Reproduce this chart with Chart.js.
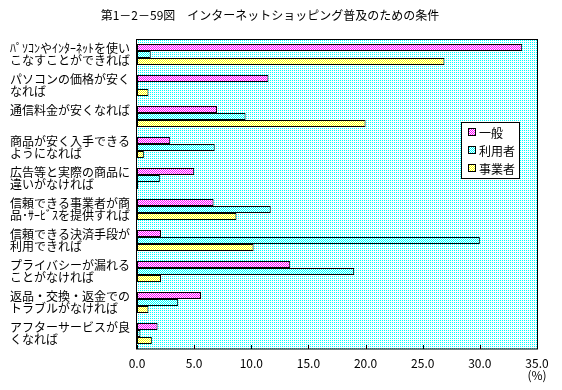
<!DOCTYPE html>
<html><head><meta charset="utf-8">
<script src="https://cdn.jsdelivr.net/npm/chart.js@4"></script>
<style>html,body{margin:0;padding:0;background:#fff}#wrap{width:562px;height:390px}</style>
</head><body><div id="wrap"><canvas id="c" width="562" height="390"></canvas></div>
<script>
const chartTitle = '第1－2－59図　インターネットショッピング普及のための条件';
const categories = [
  ['ﾊﾟｿｺﾝやｲﾝﾀｰﾈｯﾄを使い', 'こなすことができれば'],
  ['パソコンの価格が安く', 'なれば'],
  ['通信料金が安くなれば', ''],
  ['商品が安く入手できる', 'ようになれば'],
  ['広告等と実際の商品に', '違いがなければ'],
  ['信頼できる事業者が商', '品･ｻｰﾋﾞｽを提供すれば'],
  ['信頼できる決済手段が', '利用できれば'],
  ['プライバシーが漏れる', 'ことがなければ'],
  ['返品・交換・返金での', 'トラブルがなければ'],
  ['アフターサービスが良', 'くなれば']
];
const seriesNames = ['一般', '利用者', '事業者'];
const general  = [33.7, 11.5, 7.0, 2.9, 5.0, 6.7, 2.1, 13.4, 5.6, 1.8];
const users    = [1.2, 0.1, 9.5, 6.8, 2.0, 11.7, 30.0, 19.0, 3.6, 0.3];
const business = [26.9, 1.0, 20.0, 0.6, 0.1, 8.7, 10.2, 2.1, 1.0, 1.3];
const xTickLabels = ['0.0', '5.0', '10.0', '15.0', '20.0', '25.0', '30.0', '35.0'];
const unitLabel = '(%)';

const FONT = '"Noto Sans CJK JP", "Noto Sans", sans-serif';

function makePattern(color, dense) {
  const c = document.createElement('canvas');
  c.width = 2; c.height = 2;
  const g = c.getContext('2d');
  g.fillStyle = '#ffffff'; g.fillRect(0, 0, 2, 2);
  g.fillStyle = color;
  g.fillRect(0, 0, 1, 1);
  if (dense) g.fillRect(1, 1, 1, 1);
  return g.createPattern(c, 'repeat');
}
const bgPattern = makePattern('#00ffff', false);
const seriesFills = [makePattern('#ff00ff', true), makePattern('#00ffff', true), makePattern('#ffff00', true)];

const decor = {
  id: 'decor',
  beforeDraw(chart) {
    const ctx = chart.ctx, a = chart.chartArea;
    ctx.save();
    ctx.fillStyle = bgPattern;
    ctx.fillRect(a.left, a.top, a.right - a.left, a.bottom - a.top);
    ctx.restore();
  },
  afterDraw(chart) {
    const ctx = chart.ctx, a = chart.chartArea;
    ctx.save();
    // title
    ctx.fillStyle = '#000';
    ctx.font = '12px ' + FONT;
    ctx.textAlign = 'center';
    ctx.textBaseline = 'middle';
    ctx.fillText(chartTitle, 270, 15);
    // frame
    ctx.strokeStyle = '#000';
    ctx.lineWidth = 1;
    ctx.strokeRect(Math.round(a.left) - 0.5, Math.round(a.top) + 0.5,
                   Math.round(a.right - a.left) + 1, Math.round(a.bottom - a.top) - 0.5);
    // inward tick marks
    const xs = chart.scales.x;
    xs.ticks.forEach(t => {
      const x = Math.round(xs.getPixelForValue(t.value)) + 0.5;
      ctx.beginPath();
      ctx.moveTo(x, a.bottom);
      ctx.lineTo(x, a.bottom - 4);
      ctx.stroke();
    });
    // legend
    const lx = Math.round(a.right) - 76, ly = Math.round(a.top) + 83;
    const lw = 58, lh = 56;
    ctx.fillStyle = '#fff';
    ctx.fillRect(lx, ly, lw, lh);
    ctx.strokeRect(lx + 0.5, ly + 0.5, lw, lh);
    ctx.textAlign = 'left';
    ctx.font = '12px ' + FONT;
    chart.data.datasets.forEach((ds, i) => {
      const cy = ly + 10 + i * 18;
      ctx.fillStyle = ds.backgroundColor;
      ctx.fillRect(lx + 7, cy - 4, 8, 8);
      ctx.strokeStyle = '#000';
      ctx.strokeRect(lx + 7.5, cy - 3.5, 7, 7);
      ctx.fillStyle = '#000';
      ctx.fillText(ds.label, lx + 18, cy + 1);
    });
    ctx.restore();
  }
};

new Chart(document.getElementById('c'), {
  type: 'bar',
  data: {
    labels: categories,
    datasets: [
      { label: seriesNames[0], data: general,  backgroundColor: seriesFills[0] },
      { label: seriesNames[1], data: users,    backgroundColor: seriesFills[1] },
      { label: seriesNames[2], data: business, backgroundColor: seriesFills[2] }
    ].map(d => Object.assign(d, { borderColor: '#000', borderWidth: 1, borderSkipped: false,
                                  categoryPercentage: 0.68, barPercentage: 1.0 }))
  },
  options: {
    indexAxis: 'y',
    responsive: false,
    animation: false,
    layout: { padding: { left: 10, top: 39, right: 25, bottom: 0 } },
    plugins: { legend: { display: false }, title: { display: false }, tooltip: { enabled: false } },
    scales: {
      y: {
        type: 'category',
        grid: { display: false },
        border: { display: false },
        ticks: { color: '#000', crossAlign: 'far', padding: 0, font: { family: FONT, size: 12, lineHeight: 1.0 } },
        afterFit(s) { s.width = 127; }
      },
      x: {
        type: 'linear', min: 0, max: 35,
        grid: { display: false, drawTicks: false },
        border: { display: false },
        ticks: {
          stepSize: 5, color: '#000', padding: 8, maxRotation: 0, autoSkip: false,
          font: { family: FONT, size: 12, lineHeight: 1.0 },
          callback(v, i, arr) { return i === arr.length - 1 ? [xTickLabels[i], unitLabel] : xTickLabels[i]; }
        },
        afterFit(s) { s.height = 41; }
      }
    }
  },
  plugins: [decor]
});
</script></body></html>
